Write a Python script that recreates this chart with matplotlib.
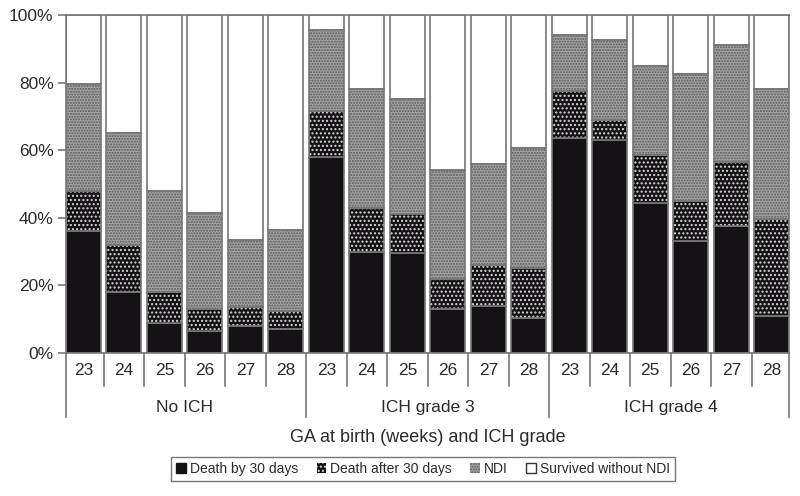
#!/usr/bin/env python3
"""Stacked outcome bars by GA at birth and ICH grade."""

import matplotlib

matplotlib.use("Agg")
import matplotlib.pyplot as plt
import numpy as np
from matplotlib.patches import Patch
from matplotlib.transforms import blended_transform_factory

GA_WEEKS = ["23", "24", "25", "26", "27", "28"]
GROUPS = ["No ICH", "ICH grade 3", "ICH grade 4"]

# cumulative tops (percent), per bar
DEATH_30 = [36, 18, 9, 6.5, 8, 7,
            58, 30, 29.5, 13, 14, 10.5,
            63.5, 63, 44.5, 33, 37.5, 11]
DEATH_AFTER_TOP = [48, 32, 18, 13, 13.5, 12.5,
                   71.5, 43, 41, 22, 26, 25,
                   77.5, 69, 58.5, 45, 56.5, 39.5]
NDI_TOP = [79.5, 65, 48, 41.5, 33.5, 36.5,
           95.5, 78, 75, 54, 56, 60.5,
           94, 92.5, 85, 82.5, 91, 78]

SERIES_LABELS = ["Death by 30 days", "Death after 30 days", "NDI", "Survived without NDI"]

EDGE = "#777777"
TEXT = "#2a2a2a"
BAR_W = 0.86


def main() -> None:
    plt.rcParams["font.family"] = ["Liberation Sans", "DejaVu Sans"]
    plt.rcParams["hatch.linewidth"] = 1.0

    d30 = np.array(DEATH_30)
    dafter = np.array(DEATH_AFTER_TOP)
    ndi = np.array(NDI_TOP)
    x = np.arange(len(d30))

    segments = [
        (np.zeros_like(d30), d30, "#141214", None, None),
        (d30, dafter - d30, "#141214", "....", "#d8d8d8"),
        (dafter, ndi - dafter, "#a4a4a4", "......", "#5a5a5a"),
        (ndi, 100 - ndi, "white", None, None),
    ]

    fig = plt.figure(figsize=(8, 4.96), dpi=100)
    ax = fig.add_axes([0.0825, 0.2883, 0.904, 0.6817])

    for bottom, height, face, hatch, hcol in segments:
        if hatch:
            ax.bar(x, height, BAR_W, bottom=bottom, color=face, hatch=hatch,
                   edgecolor=hcol, linewidth=0, zorder=2)
            ax.bar(x, height, BAR_W, bottom=bottom, fill=False,
                   edgecolor=EDGE, linewidth=1.2, zorder=3)
        else:
            ax.bar(x, height, BAR_W, bottom=bottom, color=face,
                   edgecolor=EDGE, linewidth=1.2, zorder=2)

    x0, x1 = -BAR_W / 2, len(x) - 1 + BAR_W / 2
    ax.set_xlim(x0, x1)
    ax.set_ylim(0, 100)
    ax.set_yticks(np.arange(0, 101, 20))
    ax.set_yticklabels([f"{v}%" for v in range(0, 101, 20)])
    ax.tick_params(axis="y", length=6, width=1.2, color=EDGE, labelsize=12.5,
                   labelcolor=TEXT, pad=3)
    ax.set_xticks([])
    for s in ax.spines.values():
        s.set_color(EDGE)
        s.set_linewidth(1.2)

    # category axis drawn as a table of cells under the bars
    tr = blended_transform_factory(ax.transData, ax.transAxes)
    n = len(GA_WEEKS)
    for i in range(len(x) + 1):
        xs = x0 if i == 0 else (x1 if i == len(x) else i - 0.5)
        low = -0.189 if i % n == 0 else -0.0976
        ax.plot([xs, xs], [0, low], transform=tr, color=EDGE, lw=1.2,
                clip_on=False)
    for i in x:
        ax.text(i, -0.053, GA_WEEKS[i % n], transform=tr, ha="center",
                va="center", fontsize=12.5, color=TEXT)
    for g, name in enumerate(GROUPS):
        ax.text(g * n + (n - 1) / 2, -0.16, name, transform=tr, ha="center",
                va="center", fontsize=12.5, color=TEXT)
    ax.text(0.5, -0.25, "GA at birth (weeks) and ICH grade", transform=ax.transAxes,
            ha="center", va="center", fontsize=13, color=TEXT)

    handles = [
        Patch(facecolor="#141214", edgecolor="#141214"),
        Patch(facecolor="#141214", hatch="....", edgecolor="#d8d8d8", linewidth=0),
        Patch(facecolor="#a4a4a4", hatch="......", edgecolor="#5a5a5a", linewidth=0),
        Patch(facecolor="white", edgecolor="#333333", linewidth=1),
    ]
    leg = fig.legend(handles, SERIES_LABELS, loc="center", ncol=4,
                     bbox_to_anchor=(0.529, 0.054), fontsize=10,
                     handlelength=0.7, handleheight=0.7, handletextpad=0.3,
                     columnspacing=1.3, borderpad=0.35, fancybox=False,
                     frameon=True)
    leg.get_frame().set_edgecolor("#555555")
    leg.get_frame().set_linewidth(1.0)
    for t in leg.get_texts():
        t.set_color(TEXT)

    fig.savefig("out.png", dpi=100)


if __name__ == "__main__":
    main()
